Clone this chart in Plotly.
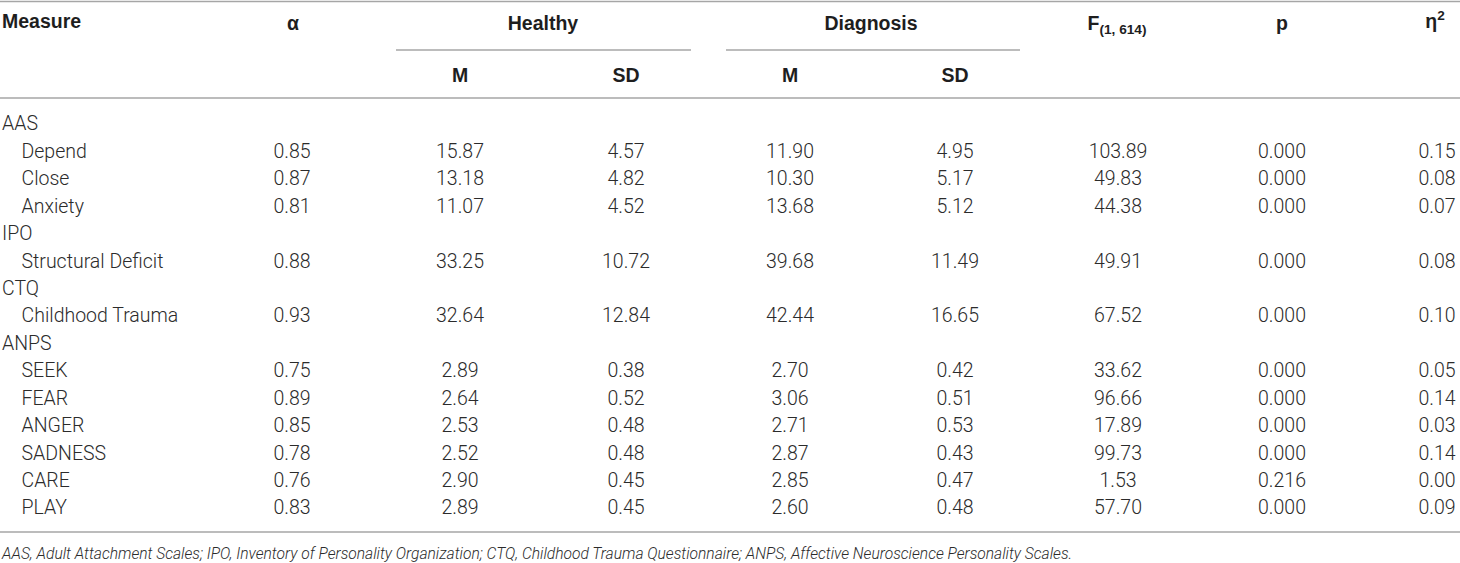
import plotly.graph_objects as go

# table content (rows top to bottom; None = group heading row)
measures = ["AAS", "Depend", "Close", "Anxiety", "IPO", "Structural Deficit", "CTQ",
            "Childhood Trauma", "ANPS", "SEEK", "FEAR", "ANGER", "SADNESS", "CARE", "PLAY"]
groups = ["AAS", "IPO", "CTQ", "ANPS"]
alpha = [None, 0.85, 0.87, 0.81, None, 0.88, None, 0.93, None, 0.75, 0.89, 0.85, 0.78, 0.76, 0.83]
healthy_m = [None, 15.87, 13.18, 11.07, None, 33.25, None, 32.64, None, 2.89, 2.64, 2.53, 2.52, 2.90, 2.89]
healthy_sd = [None, 4.57, 4.82, 4.52, None, 10.72, None, 12.84, None, 0.38, 0.52, 0.48, 0.48, 0.45, 0.45]
diag_m = [None, 11.90, 10.30, 13.68, None, 39.68, None, 42.44, None, 2.70, 3.06, 2.71, 2.87, 2.85, 2.60]
diag_sd = [None, 4.95, 5.17, 5.12, None, 11.49, None, 16.65, None, 0.42, 0.51, 0.53, 0.43, 0.47, 0.48]
f_val = [None, 103.89, 49.83, 44.38, None, 49.91, None, 67.52, None, 33.62, 96.66, 17.89, 99.73, 1.53, 57.70]
p_val = [None, 0.000, 0.000, 0.000, None, 0.000, None, 0.000, None, 0.000, 0.000, 0.000, 0.000, 0.216, 0.000]
eta2 = [None, 0.15, 0.08, 0.07, None, 0.08, None, 0.10, None, 0.05, 0.14, 0.03, 0.14, 0.00, 0.09]

headers = ["α", "F<sub>(1, 614)</sub>", "p", "η<sup>2</sup>"]
subheaders = ["M", "SD", "M", "SD"]
spanners = ["Healthy", "Diagnosis"]
footnote = ("AAS, Adult Attachment Scales; IPO, Inventory of Personality Organization; "
            "CTQ, Childhood Trauma Questionnaire; ANPS, Affective Neuroscience Personality Scales.")

W, H = 1460, 563
BODY = dict(family="Roboto, Liberation Sans, sans-serif", size=19.5, color="#2b2b2b", weight=300)
BOLD = dict(family="Liberation Sans, Arial, sans-serif", size=19.5, color="#1e1e1e", weight="bold")
LINE = "#a6a6a6"

row_y = [125.5 + i * 27.43 for i in range(len(measures))]
col_x = [292, 460, 626, 790, 955, 1118, 1282, 1437]
cols = [(alpha, 2), (healthy_m, 2), (healthy_sd, 2), (diag_m, 2), (diag_sd, 2),
        (f_val, 2), (p_val, 3), (eta2, 2)]

fig = go.Figure()

# measure names
fig.add_trace(go.Scatter(
    x=[2 if m in groups else 21.5 for m in measures], y=row_y, text=measures,
    mode="text", textposition="middle right", textfont=BODY, hoverinfo="skip"))

# numeric columns
for cx, (vals, dec) in zip(col_x, cols):
    ys = [y for y, v in zip(row_y, vals) if v is not None]
    txt = [f"{v:.{dec}f}" for v in vals if v is not None]
    fig.add_trace(go.Scatter(
        x=[cx] * len(ys), y=ys, text=txt, mode="text",
        textposition="middle center", textfont=BODY, hoverinfo="skip"))

# header row 1
fig.add_trace(go.Scatter(x=[2], y=[23.5], text=["Measure"], mode="text",
                         textposition="middle right", textfont=BOLD, hoverinfo="skip"))
fig.add_trace(go.Scatter(x=[293, 1117, 1282, 1435], y=[25.5, 25.5, 25.5, 23.5], text=headers,
                         mode="text", textposition="middle center", textfont=BOLD, hoverinfo="skip"))
fig.add_trace(go.Scatter(x=[543, 871], y=[25.5, 25.5], text=spanners, mode="text",
                         textposition="middle center", textfont=BOLD, hoverinfo="skip"))
# header row 2
fig.add_trace(go.Scatter(x=[460, 626, 790, 955], y=[77] * 4, text=subheaders, mode="text",
                         textposition="middle center", textfont=BOLD, hoverinfo="skip"))

# footnote
fig.add_trace(go.Scatter(
    x=[2], y=[555], text=[f"<i>{footnote}</i>"], mode="text", textposition="middle right",
    textfont=dict(family="Roboto, Liberation Sans, sans-serif", size=15.6, color="#2b2b2b", weight=300),
    hoverinfo="skip"))

# rules
for y in (1.5, 98, 532):
    fig.add_shape(type="line", x0=0, x1=W, y0=y, y1=y, line=dict(color=LINE, width=1.6))
for x0, x1 in ((396, 691), (726, 1020)):
    fig.add_shape(type="line", x0=x0, x1=x1, y0=50, y1=50, line=dict(color=LINE, width=1.4))

fig.update_layout(
    width=W, height=H, margin=dict(l=0, r=0, t=0, b=0),
    paper_bgcolor="white", plot_bgcolor="white", showlegend=False,
    xaxis=dict(range=[0, W], visible=False, fixedrange=True),
    yaxis=dict(range=[H, 0], visible=False, fixedrange=True),
)

# drop the browser's default body margin so the figure fills the window
fig.write_html("out.html", config={"displayModeBar": False},
               post_script="document.body.style.margin='0';document.body.style.overflow='hidden';")
